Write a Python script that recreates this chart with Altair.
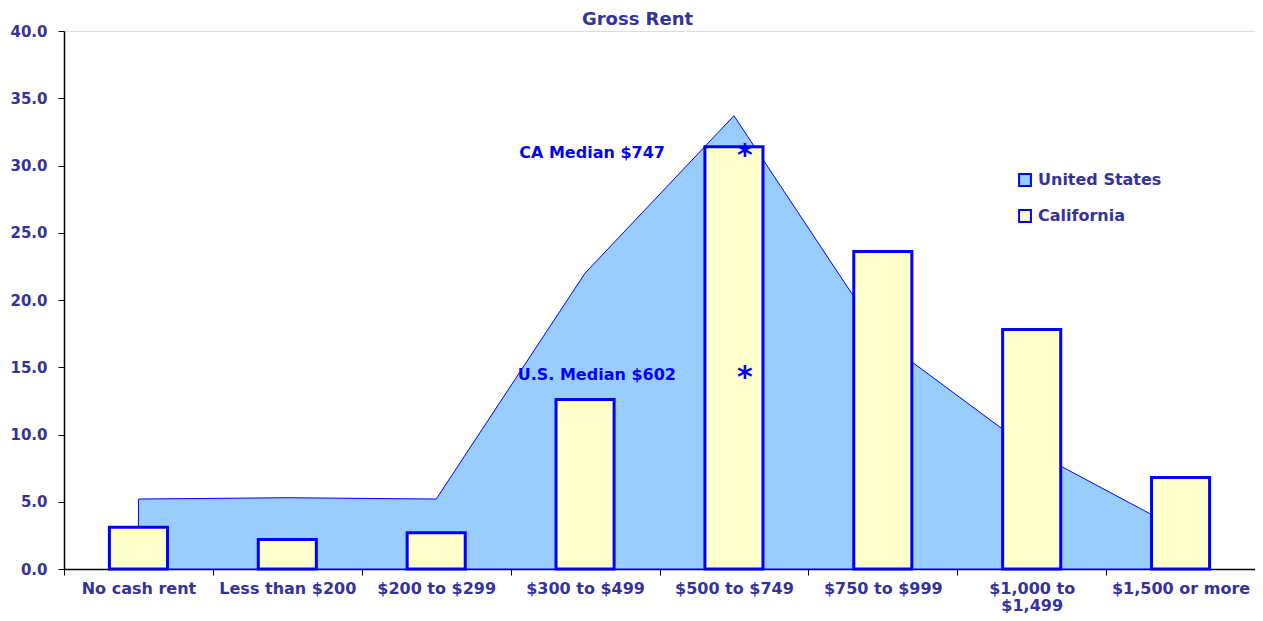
import altair as alt
import pandas as pd

categories = ["No cash rent", "Less than $200", "$200 to $299", "$300 to $499",
              "$500 to $749", "$750 to $999", "$1,000 to $1,499", "$1,500 or more"]
us_values = [5.2, 5.3, 5.2, 22.0, 33.7, 17.0, 8.8, 2.9]
ca_values = [3.1, 2.2, 2.7, 12.6, 31.4, 23.6, 17.8, 6.8]

ann_category = ["$500 to $749", "$500 to $749"]
ann_text = ["CA Median $747", "U.S. Median $602"]
ann_text_y = [30.9, 14.4]
ann_star_y = [31.1, 14.6]

FONT = "DejaVu Sans"
LABEL_COLOR = "#333399"

us_df = pd.DataFrame({"category": categories, "value": us_values, "series": "United States"})
ca_df = pd.DataFrame({"category": categories, "value": ca_values, "series": "California"})
ann_df = pd.DataFrame({"category": ann_category, "text": ann_text,
                       "ty": ann_text_y, "sy": ann_star_y})

x_scale = alt.Scale(type="band", domain=categories, paddingInner=0, paddingOuter=0)
y_scale = alt.Scale(domain=[0, 40], nice=False)
fill_scale = alt.Scale(domain=["United States", "California"], range=["#99CCFF", "#FFFFCC"])

x_axis = alt.Axis(
    title=None, labelAngle=0, tickBand="extent", tickSize=6, tickColor="black",
    domainColor="black", domainWidth=1.5, labelPadding=5,
    labelFont=FONT, labelFontSize=16, labelFontWeight="bold", labelColor=LABEL_COLOR,
    labelLineHeight=17,
    labelExpr="datum.label == '$1,000 to $1,499' ? ['$1,000 to', '$1,499'] : datum.label",
)
y_axis = alt.Axis(
    title=None, values=[0, 5, 10, 15, 20, 25, 30, 35, 40], format=".1f", grid=False,
    tickSize=6, tickColor="black", domainColor="black", domainWidth=1.5, labelPadding=11,
    labelFont=FONT, labelFontSize=15, labelFontWeight="bold", labelColor=LABEL_COLOR,
)

legend = alt.Legend(
    title=None, orient="none", legendX=953, legendY=141, symbolType="square",
    symbolSize=140, symbolStrokeColor="#0000FF", symbolStrokeWidth=2,
    labelFont=FONT, labelFontSize=16, labelFontWeight="bold", labelColor=LABEL_COLOR,
    rowPadding=16, labelOffset=5,
)

area = alt.Chart(us_df).mark_area(
    stroke="#0000FF", strokeWidth=1, opacity=1
).encode(
    x=alt.X("category:N", scale=x_scale, sort=categories, axis=x_axis, bandPosition=0.5),
    y=alt.Y("value:Q", scale=y_scale, axis=y_axis),
    fill=alt.Fill("series:N", scale=fill_scale, legend=legend),
)

bars = alt.Chart(ca_df).mark_bar(
    stroke="#0000FF", strokeWidth=3, width=alt.RelativeBandSize(0.39)
).encode(
    x=alt.X("category:N", scale=x_scale, sort=categories),
    y=alt.Y("value:Q", scale=y_scale),
    fill=alt.Fill("series:N", scale=fill_scale, legend=legend),
)

ann_ca = alt.Chart(ann_df.iloc[[0]]).mark_text(
    align="right", baseline="middle", dx=-69, font=FONT, fontSize=16,
    fontWeight="bold", color="#0000FF"
).encode(
    x=alt.X("category:N", scale=x_scale, sort=categories, bandPosition=0.5),
    y=alt.Y("ty:Q", scale=y_scale),
    text="text:N",
)
ann_us = alt.Chart(ann_df.iloc[[1]]).mark_text(
    align="right", baseline="middle", dx=-58, font=FONT, fontSize=16,
    fontWeight="bold", color="#0000FF"
).encode(
    x=alt.X("category:N", scale=x_scale, sort=categories, bandPosition=0.5),
    y=alt.Y("ty:Q", scale=y_scale),
    text="text:N",
)
stars = alt.Chart(ann_df).mark_text(
    align="center", baseline="alphabetic", dx=11, dy=14, font=FONT, fontSize=30,
    fontWeight="bold", color="#0000FF", text="*"
).encode(
    x=alt.X("category:N", scale=x_scale, sort=categories, bandPosition=0.5),
    y=alt.Y("sy:Q", scale=y_scale),
)

chart = alt.layer(area, bars, ann_ca, ann_us, stars).properties(
    width=1191, height=538,
    autosize=alt.AutoSizeParams(type="none"),
    padding={"left": 56, "top": 23, "right": 0, "bottom": 44},
    title=alt.TitleParams(
        "Gross Rent", font=FONT, fontSize=18, fontWeight="bold", color=LABEL_COLOR,
        anchor="middle", offset=-5, dx=-22,
    ),
).configure_view(
    stroke="#A0A0A0", strokeWidth=2
).configure(background="white")

chart.save("out.html", embed_options={"renderer": "svg", "actions": False})
